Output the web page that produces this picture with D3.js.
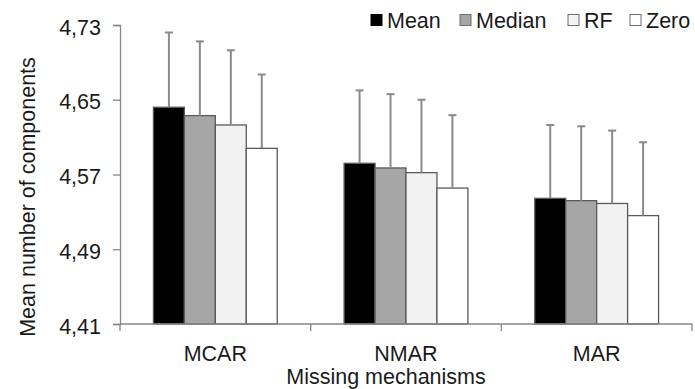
<!DOCTYPE html>
<html>
<head>
<meta charset="utf-8">
<script src="https://cdn.jsdelivr.net/npm/d3@7"></script>
<style>
  html, body { margin: 0; padding: 0; background: #fff; }
  svg { display: block; }
  text { font-family: "Liberation Sans", Arial, sans-serif; fill: #1a1a1a; }
</style>
</head>
<body>
<svg id="chart" width="695" height="389"></svg>
<script>
// ---- data ----
const categories = ["MCAR", "NMAR", "MAR"];
const seriesNames = ["Mean", "Median", "RF", "Zero"];
const meanValues   = [4.642, 4.582, 4.5445];
const medianValues = [4.633, 4.577, 4.542];
const rfValues     = [4.623, 4.572, 4.539];
const zeroValues   = [4.598, 4.5555, 4.526];
const meanErr   = [0.080, 0.078, 0.0785];
const medianErr = [0.0795, 0.079, 0.0796];
const rfErr     = [0.080, 0.078, 0.078];
const zeroErr   = [0.079, 0.078, 0.0785];
const yTickValues = [4.41, 4.49, 4.57, 4.65, 4.73];
const yTitle = "Mean number of components";
const xTitle = "Missing mechanisms";

// ---- layout / style ----
const fills = ["#000000", "#a6a6a6", "#f2f2f2", "#ffffff"];
const axisColor = "#868686";
const barStroke = "#5a5a5a";
const errColor = "#8a8a8a";
const fontSize = 21.5;

const valuesBySeries = [meanValues, medianValues, rfValues, zeroValues];
const errBySeries = [meanErr, medianErr, rfErr, zeroErr];
const rows = [];
categories.forEach((c, ci) => {
  seriesNames.forEach((s, si) => {
    rows.push({ cat: c, series: s, si, value: valuesBySeries[si][ci], err: errBySeries[si][ci] });
  });
});

const svg = d3.select("#chart");
const x0 = d3.scaleBand().domain(categories).range([120, 692]).paddingInner(0).paddingOuter(0);
const x1 = d3.scaleBand().domain(seriesNames).range([0, x0.bandwidth()]).paddingInner(0).paddingOuter(1.08);
const y = d3.scaleLinear().domain([4.41, 4.73]).range([324, 25]);
const fmt = v => d3.format(".2f")(v).replace(".", ",");

// bars
svg.append("g").selectAll("rect").data(rows).join("rect")
  .attr("x", d => x0(d.cat) + x1(d.series))
  .attr("y", d => y(d.value))
  .attr("width", x1.bandwidth())
  .attr("height", d => y(4.41) - y(d.value))
  .attr("fill", d => fills[d.si])
  .attr("stroke", barStroke)
  .attr("stroke-width", 1.3);

// error bars (plus only)
const eg = svg.append("g").attr("stroke", errColor).attr("stroke-width", 2);
eg.selectAll("line.v").data(rows).join("line").attr("class", "v")
  .attr("x1", d => x0(d.cat) + x1(d.series) + x1.bandwidth() / 2)
  .attr("x2", d => x0(d.cat) + x1(d.series) + x1.bandwidth() / 2)
  .attr("y1", d => y(d.value))
  .attr("y2", d => y(d.value + d.err));
eg.selectAll("line.c").data(rows).join("line").attr("class", "c")
  .attr("x1", d => x0(d.cat) + x1(d.series) + x1.bandwidth() / 2 - 4)
  .attr("x2", d => x0(d.cat) + x1(d.series) + x1.bandwidth() / 2 + 4)
  .attr("y1", d => y(d.value + d.err))
  .attr("y2", d => y(d.value + d.err));

// y axis
const yAxis = svg.append("g").attr("transform", "translate(120,0)")
  .call(d3.axisLeft(y).tickValues(yTickValues).tickFormat(fmt).tickSize(7).tickPadding(12));
yAxis.select(".domain").attr("stroke", axisColor).attr("stroke-width", 1.3);
yAxis.selectAll(".tick line").attr("stroke", axisColor).attr("stroke-width", 1.3);
yAxis.selectAll(".tick text")
  .attr("font-size", fontSize).attr("fill", "#1a1a1a")
  .attr("font-family", "Liberation Sans, Arial, sans-serif")
  .attr("dy", "0.42em");

// x axis
const boundaries = categories.map(c => x0(c)).concat([x0.range()[1]]);
const xg = svg.append("g");
xg.append("line").attr("x1", x0.range()[0]).attr("x2", x0.range()[1])
  .attr("y1", y(4.41)).attr("y2", y(4.41))
  .attr("stroke", axisColor).attr("stroke-width", 1.3);
xg.selectAll("line.t").data(boundaries).join("line").attr("class", "t")
  .attr("x1", d => d).attr("x2", d => d)
  .attr("y1", y(4.41)).attr("y2", y(4.41) + 7)
  .attr("stroke", axisColor).attr("stroke-width", 1.3);
xg.selectAll("text").data(categories).join("text")
  .attr("x", d => x0(d) + x0.bandwidth() / 2)
  .attr("y", 360.5)
  .attr("text-anchor", "middle")
  .attr("font-size", fontSize)
  .text(d => d);

// axis titles
svg.append("text").attr("x", 386).attr("y", 383.5)
  .attr("text-anchor", "middle").attr("font-size", fontSize).text(xTitle);
svg.append("text")
  .attr("transform", "translate(35,197) rotate(-90)")
  .attr("text-anchor", "middle").attr("font-size", fontSize).text(yTitle);

// legend
const legendX = [371, 460, 568, 630];
const lg = svg.append("g");
seriesNames.forEach((s, i) => {
  lg.append("rect").attr("x", legendX[i]).attr("y", 14.5).attr("width", 11).attr("height", 11)
    .attr("fill", fills[i]).attr("stroke", i === 0 ? "#000" : "#6f6f6f").attr("stroke-width", 1);
  lg.append("text").attr("x", legendX[i] + 16).attr("y", 27.5)
    .attr("font-size", fontSize).text(s);
});
</script>
</body>
</html>
